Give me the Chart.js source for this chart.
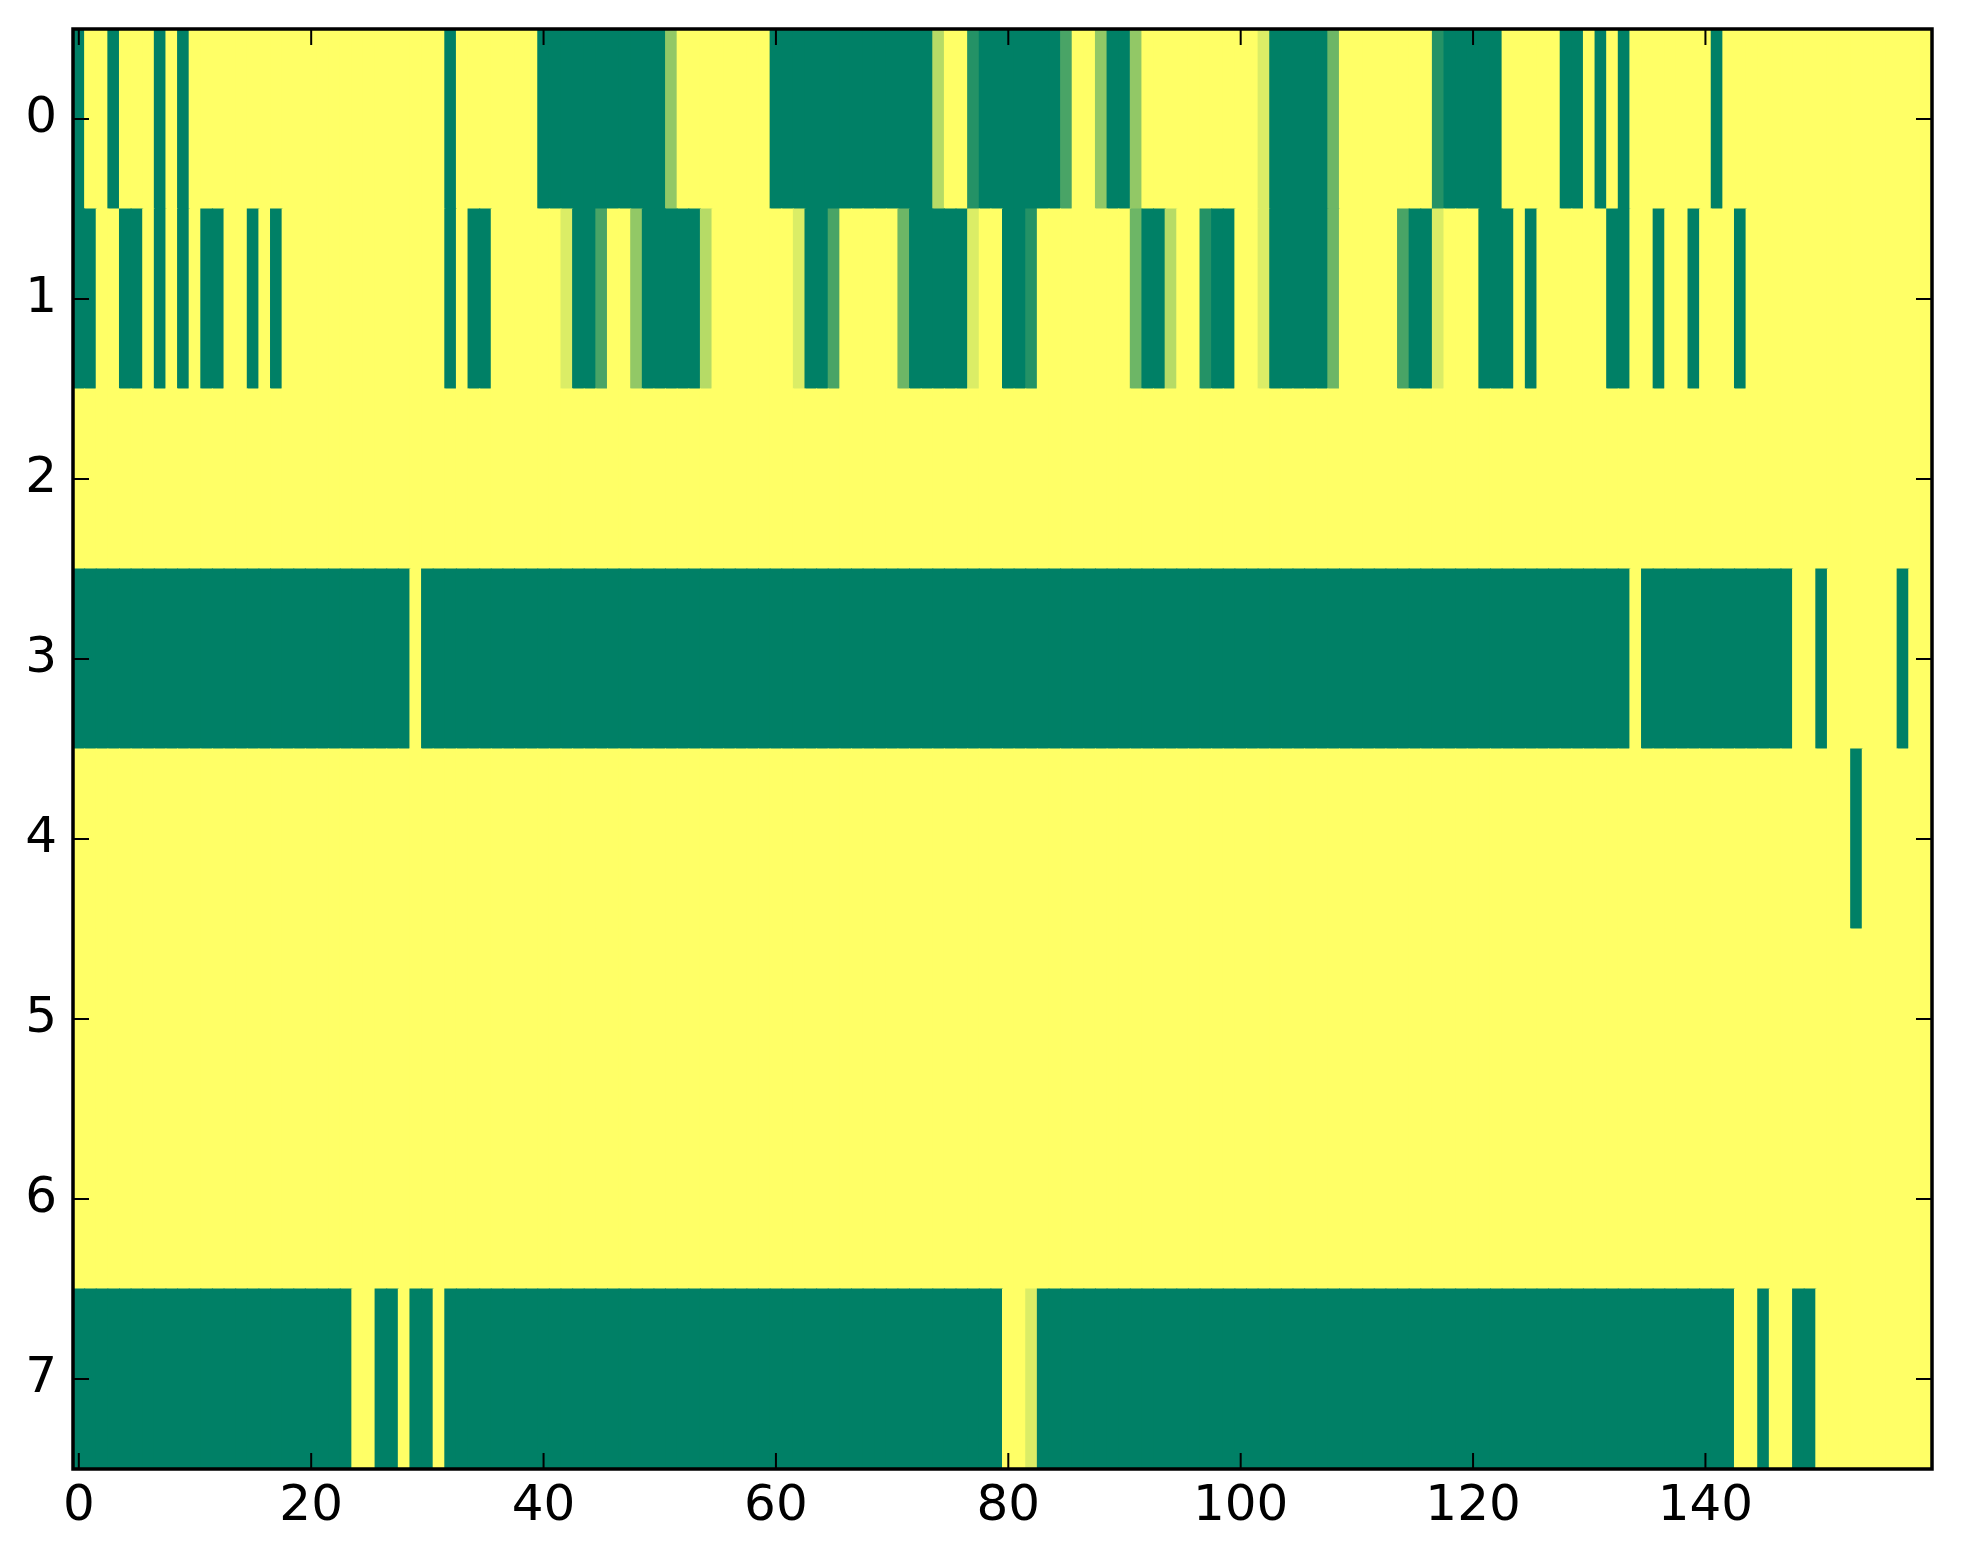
<!DOCTYPE html>
<html>
<head>
<meta charset="utf-8">
<script src="https://cdn.jsdelivr.net/npm/chart.js"></script>
<style>
  html, body { margin: 0; padding: 0; background: #fff; }
  #wrap { width: 1963px; height: 1564px; position: relative; }
</style>
</head>
<body>
<div id="wrap"><canvas id="heat"></canvas></div>
<script>
// cell levels, 0 = dark green ... 7 = yellow (summer colormap)
const row0 = [
  0,7,7,0,7,7,7,0,7,0, 7,7,7,7,7,7,7,7,7,7, 7,7,7,7,7,7,7,7,7,7, 7,7,0,7,7,7,7,7,7,7,
  0,0,0,0,0,0,0,0,0,0, 0,4,7,7,7,7,7,7,7,7, 0,0,0,0,0,0,0,0,0,0, 0,0,0,0,5,7,7,1,0,0,
  0,0,0,0,0,2,7,7,4,0, 0,4,7,7,7,7,7,7,7,7, 7,7,6,0,0,0,0,0,3,7, 7,7,7,7,7,7,7,1,0,0,
  0,0,0,7,7,7,7,7,0,0, 7,0,7,0,7,7,7,7,7,7, 7,0,7,7,7,7,7,7,7,7, 7,7,7,7,7,7,7,7,7,7
];
const row1 = [
  0,0,7,7,0,0,7,0,7,0, 7,0,0,7,7,0,7,0,7,7, 7,7,7,7,7,7,7,7,7,7, 7,7,0,7,0,0,7,7,7,7,
  7,7,6,0,0,2,7,7,4,0, 0,0,0,0,5,7,7,7,7,7, 7,7,6,0,0,2,7,7,7,7, 7,3,0,0,0,0,0,6,7,7,
  0,0,1,7,7,7,7,7,7,7, 7,3,0,0,5,7,7,1,0,0, 7,7,6,0,0,0,0,0,3,7, 7,7,7,7,2,0,0,6,7,7,
  7,0,0,0,7,0,7,7,7,7, 7,7,0,0,7,7,0,7,7,0, 7,7,7,0,7,7,7,7,7,7, 7,7,7,7,7,7,7,7,7,7
];
const row2 = [
  7,7,7,7,7,7,7,7,7,7, 7,7,7,7,7,7,7,7,7,7, 7,7,7,7,7,7,7,7,7,7, 7,7,7,7,7,7,7,7,7,7,
  7,7,7,7,7,7,7,7,7,7, 7,7,7,7,7,7,7,7,7,7, 7,7,7,7,7,7,7,7,7,7, 7,7,7,7,7,7,7,7,7,7,
  7,7,7,7,7,7,7,7,7,7, 7,7,7,7,7,7,7,7,7,7, 7,7,7,7,7,7,7,7,7,7, 7,7,7,7,7,7,7,7,7,7,
  7,7,7,7,7,7,7,7,7,7, 7,7,7,7,7,7,7,7,7,7, 7,7,7,7,7,7,7,7,7,7, 7,7,7,7,7,7,7,7,7,7
];
const row3 = [
  0,0,0,0,0,0,0,0,0,0, 0,0,0,0,0,0,0,0,0,0, 0,0,0,0,0,0,0,0,0,7, 0,0,0,0,0,0,0,0,0,0,
  0,0,0,0,0,0,0,0,0,0, 0,0,0,0,0,0,0,0,0,0, 0,0,0,0,0,0,0,0,0,0, 0,0,0,0,0,0,0,0,0,0,
  0,0,0,0,0,0,0,0,0,0, 0,0,0,0,0,0,0,0,0,0, 0,0,0,0,0,0,0,0,0,0, 0,0,0,0,0,0,0,0,0,0,
  0,0,0,0,0,0,0,0,0,0, 0,0,0,0,7,0,0,0,0,0, 0,0,0,0,0,0,0,0,7,7, 0,7,7,7,7,7,7,0,7,7
];
const row4 = [
  7,7,7,7,7,7,7,7,7,7, 7,7,7,7,7,7,7,7,7,7, 7,7,7,7,7,7,7,7,7,7, 7,7,7,7,7,7,7,7,7,7,
  7,7,7,7,7,7,7,7,7,7, 7,7,7,7,7,7,7,7,7,7, 7,7,7,7,7,7,7,7,7,7, 7,7,7,7,7,7,7,7,7,7,
  7,7,7,7,7,7,7,7,7,7, 7,7,7,7,7,7,7,7,7,7, 7,7,7,7,7,7,7,7,7,7, 7,7,7,7,7,7,7,7,7,7,
  7,7,7,7,7,7,7,7,7,7, 7,7,7,7,7,7,7,7,7,7, 7,7,7,7,7,7,7,7,7,7, 7,7,7,0,7,7,7,7,7,7
];
const row5 = [
  7,7,7,7,7,7,7,7,7,7, 7,7,7,7,7,7,7,7,7,7, 7,7,7,7,7,7,7,7,7,7, 7,7,7,7,7,7,7,7,7,7,
  7,7,7,7,7,7,7,7,7,7, 7,7,7,7,7,7,7,7,7,7, 7,7,7,7,7,7,7,7,7,7, 7,7,7,7,7,7,7,7,7,7,
  7,7,7,7,7,7,7,7,7,7, 7,7,7,7,7,7,7,7,7,7, 7,7,7,7,7,7,7,7,7,7, 7,7,7,7,7,7,7,7,7,7,
  7,7,7,7,7,7,7,7,7,7, 7,7,7,7,7,7,7,7,7,7, 7,7,7,7,7,7,7,7,7,7, 7,7,7,7,7,7,7,7,7,7
];
const row6 = [
  7,7,7,7,7,7,7,7,7,7, 7,7,7,7,7,7,7,7,7,7, 7,7,7,7,7,7,7,7,7,7, 7,7,7,7,7,7,7,7,7,7,
  7,7,7,7,7,7,7,7,7,7, 7,7,7,7,7,7,7,7,7,7, 7,7,7,7,7,7,7,7,7,7, 7,7,7,7,7,7,7,7,7,7,
  7,7,7,7,7,7,7,7,7,7, 7,7,7,7,7,7,7,7,7,7, 7,7,7,7,7,7,7,7,7,7, 7,7,7,7,7,7,7,7,7,7,
  7,7,7,7,7,7,7,7,7,7, 7,7,7,7,7,7,7,7,7,7, 7,7,7,7,7,7,7,7,7,7, 7,7,7,7,7,7,7,7,7,7
];
const row7 = [
  0,0,0,0,0,0,0,0,0,0, 0,0,0,0,0,0,0,0,0,0, 0,0,0,0,7,7,0,0,7,0, 0,7,0,0,0,0,0,0,0,0,
  0,0,0,0,0,0,0,0,0,0, 0,0,0,0,0,0,0,0,0,0, 0,0,0,0,0,0,0,0,0,0, 0,0,0,0,0,0,0,0,0,0,
  7,7,6,0,0,0,0,0,0,0, 0,0,0,0,0,0,0,0,0,0, 0,0,0,0,0,0,0,0,0,0, 0,0,0,0,0,0,0,0,0,0,
  0,0,0,0,0,0,0,0,0,0, 0,0,0,0,0,0,0,0,0,0, 0,0,0,7,7,0,7,7,0,0, 7,7,7,7,7,7,7,7,7,7
];

const rowLabels = ['0', '1', '2', '3', '4', '5', '6', '7'];
const xTickValues = [0, 20, 40, 60, 80, 100, 120, 140];
const levelMax = 7;

const rows = [row0, row1, row2, row3, row4, row5, row6, row7];

// matplotlib "summer": (t, 0.5 + t/2, 0.4)
function summer(t) {
  return 'rgb(' + Math.round(255 * t) + ',' + Math.round(255 * (0.5 + 0.5 * t)) + ',102)';
}

let cells = [];
let cellColors = [];
rows.forEach(function (row, r) {
  row.forEach(function (v, c) {
    cells.push({ y: rowLabels[r], x: [c - 0.5, c + 0.5] });
    cellColors.push(summer(v / levelMax));
  });
});

// frame and inward ticks on all four sides, like the old matplotlib style
const frameTicks = {
  id: 'frameTicks',
  afterDraw(chart) {
    const ctx = chart.ctx;
    const a = chart.chartArea;
    const x = chart.scales.x;
    const y = chart.scales.y;
    const len = 16;
    ctx.save();
    ctx.strokeStyle = '#000';
    ctx.lineWidth = 2;
    ctx.beginPath();
    x.ticks.forEach(function (t, i) {
      const px = x.getPixelForTick(i);
      ctx.moveTo(px, a.bottom); ctx.lineTo(px, a.bottom - len);
      ctx.moveTo(px, a.top); ctx.lineTo(px, a.top + len);
    });
    y.ticks.forEach(function (t, i) {
      const py = y.getPixelForTick(i);
      ctx.moveTo(a.left, py); ctx.lineTo(a.left + len, py);
      ctx.moveTo(a.right, py); ctx.lineTo(a.right - len, py);
    });
    ctx.stroke();
    ctx.lineWidth = 3.5;
    ctx.strokeRect(a.left, a.top, a.right - a.left, a.bottom - a.top);
    ctx.restore();
  }
};

const tickFont = { family: 'DejaVu Sans', size: 50 };

new Chart(document.getElementById('heat').getContext('2d'), {
  type: 'bar',
  data: {
    labels: rowLabels,
    datasets: [{
      data: cells,
      backgroundColor: cellColors,
      borderWidth: 0,
      borderSkipped: false,
      inflateAmount: 0.5,
      barPercentage: 1,
      categoryPercentage: 1,
      clip: 0
    }]
  },
  options: {
    indexAxis: 'y',
    responsive: true,
    maintainAspectRatio: false,
    devicePixelRatio: 1,
    animation: false,
    layout: { padding: { left: 0, right: 31, top: 29, bottom: 0 } },
    plugins: { legend: { display: false }, tooltip: { enabled: false } },
    scales: {
      x: {
        type: 'linear',
        position: 'bottom',
        min: -0.5,
        max: 159.5,
        grid: { display: false, drawTicks: false },
        border: { display: false },
        afterBuildTicks: function (scale) {
          scale.ticks = xTickValues.map(function (v) { return { value: v }; });
        },
        afterFit: function (scale) {
          scale.height = 95;
          scale.paddingLeft = 0;
          scale.paddingRight = 0;
        },
        ticks: {
          color: '#000',
          font: tickFont,
          padding: 8,
          maxRotation: 0,
          autoSkip: false,
          callback: function (v) { return String(v); }
        }
      },
      y: {
        type: 'category',
        offset: true,
        grid: { display: false, drawTicks: false },
        border: { display: false },
        afterFit: function (scale) {
          scale.width = 73;
          scale.paddingTop = 0;
          scale.paddingBottom = 0;
        },
        ticks: { color: '#000', font: tickFont, padding: 16 }
      }
    }
  },
  plugins: [frameTicks]
});
</script>
</body>
</html>
